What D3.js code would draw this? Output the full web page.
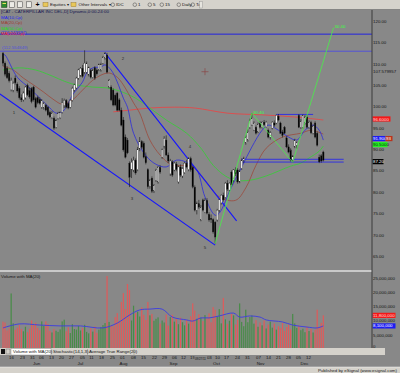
<!DOCTYPE html>
<html>
<head>
<meta charset="utf-8">
<script src="https://cdn.jsdelivr.net/npm/d3@7"></script>
<style>
body { margin: 0; background: #888888; }
svg { display: block; font-family: "Liberation Sans", Arial, sans-serif; }
</style>
</head>
<body>
<div class="chart"></div>
<script>
// daily bars, one per trading day: [open, high, low, close]
var candles = [
[112.2,112.5,109.2,109.9],[109.9,110.3,106.8,107.3],[108.7,109.2,106.2,106.5],[107.5,108.0,105.4,105.8],
[103.7,106.5,103.3,105.9],[103.6,105.6,103.1,105.2],[106.4,107.0,104.9,105.3],[105.0,105.4,103.0,103.4],
[104.0,104.5,101.4,101.8],[101.8,102.6,100.8,101.3],[101.3,103.3,100.9,102.9],[101.8,104.6,101.4,104.3],
[104.7,105.1,102.2,102.5],[103.5,104.2,101.6,102.0],[104.0,104.3,100.5,100.9],[104.3,104.6,100.9,101.3],
[101.7,102.0,99.3,99.6],[101.9,102.3,100.3,100.6],[101.5,101.9,100.2,100.5],[99.6,101.5,99.2,101.2],
[99.4,100.8,99.0,100.6],[100.1,100.4,98.6,98.9],[99.6,99.9,97.5,97.8],[98.4,98.8,97.0,97.3],
[97.2,98.7,96.8,98.2],[97.0,97.4,94.3,94.7],[95.0,96.8,94.6,96.4],[97.0,98.5,96.7,98.2],
[97.2,98.6,96.8,98.3],[98.4,101.7,98.1,100.6],[100.0,101.6,99.4,101.2],[101.2,101.5,99.3,99.6],
[100.5,100.9,99.1,99.4],[99.6,101.5,99.3,101.2],[101.2,104.4,100.9,104.0],[103.6,105.1,103.2,104.8],
[104.1,106.7,103.8,106.4],[106.4,108.6,106.0,108.3],[107.1,109.0,106.7,108.7],[108.7,109.5,106.5,106.8],
[107.8,112.9,107.3,109.9],[107.8,110.3,107.4,109.9],[107.1,109.1,106.8,108.8],[108.3,108.6,106.3,106.6],
[106.6,108.6,106.3,108.3],[108.8,109.2,106.0,106.4],[108.3,108.7,107.0,107.4],[108.3,109.8,108.0,109.5],
[108.3,110.0,107.9,109.5],[109.9,111.6,109.6,111.3],[111.1,112.5,110.7,112.1],[111.8,112.3,107.5,107.8],
[104.3,106.2,104.0,105.9],[104.3,104.7,101.0,101.3],[103.6,104.0,99.8,100.1],[102.4,102.8,99.8,100.1],
[102.9,103.2,98.6,98.9],[101.3,101.7,98.6,98.9],[98.9,99.5,95.1,95.4],[96.6,97.3,89.2,89.6],
[92.6,93.2,87.6,87.9],[91.9,92.4,88.6,88.9],[86.5,86.9,80.9,83.2],[85.1,87.6,83.0,86.7],
[84.9,88.0,84.4,87.2],[87.2,87.6,83.8,84.2],[85.0,90.3,84.6,89.8],[89.8,92.6,89.3,91.6],
[91.6,91.9,89.8,90.2],[91.2,91.6,87.6,87.9],[88.0,89.0,86.2,86.6],[85.0,85.3,80.5,81.0],
[81.2,82.8,80.5,82.5],[83.0,83.4,79.5,79.9],[80.0,81.6,79.5,81.3],[82.5,85.2,82.1,84.9],
[82.1,85.8,81.7,85.6],[85.5,86.0,84.0,84.4],[87.9,89.9,87.5,89.6],[90.5,92.8,89.9,92.3],
[91.9,93.0,88.2,88.4],[88.4,89.0,86.5,87.0],[84.0,87.5,83.5,87.0],[86.8,87.2,83.3,83.7],
[84.9,86.8,84.6,86.5],[86.3,86.8,84.6,85.0],[82.1,85.9,81.7,85.6],[85.6,86.2,83.3,83.7],
[83.5,85.5,83.0,85.2],[84.3,86.8,84.0,86.5],[86.5,87.3,85.3,85.6],[85.0,87.9,84.6,87.6],
[87.6,88.0,84.5,84.9],[85.6,85.9,80.6,80.9],[80.9,81.3,75.2,75.5],[75.5,77.5,74.5,77.0],
[77.0,77.9,75.8,76.2],[73.2,76.7,72.9,76.2],[77.9,78.2,75.2,75.5],[75.0,78.3,74.8,77.8],
[77.8,78.3,74.5,74.8],[74.5,75.0,72.8,73.2],[73.6,74.5,72.5,73.3],[73.3,73.6,70.0,70.4],
[72.7,72.9,67.7,69.2],[73.2,75.8,72.8,75.5],[75.5,78.2,75.0,77.9],[77.2,79.2,76.8,79.0],
[79.0,79.6,77.5,77.9],[78.5,82.1,78.2,81.8],[81.8,82.5,80.0,80.4],[80.2,82.0,79.9,81.8],
[84.4,84.8,81.0,81.4],[82.5,85.1,82.0,84.9],[84.9,85.5,83.5,84.0],[84.9,85.3,81.7,82.1],
[82.1,85.0,81.8,84.6],[85.3,87.6,84.9,87.2],[87.2,88.0,86.5,87.6],[91.2,93.0,90.8,92.6],
[91.9,94.4,91.5,93.8],[94.9,96.9,94.5,96.6],[95.5,98.2,95.2,97.0],[94.3,96.3,94.0,95.9],
[94.9,95.3,93.2,93.5],[93.8,96.0,93.5,95.6],[95.9,96.3,94.6,94.9],[94.9,96.3,94.6,96.1],
[96.1,96.6,95.2,95.5],[95.0,96.4,94.8,96.1],[94.2,94.6,92.3,92.6],[92.6,94.0,92.0,93.6],
[94.7,96.3,94.4,96.1],[95.9,96.5,95.0,95.4],[95.9,97.9,95.6,97.7],[97.5,98.0,96.3,96.6],
[95.9,96.2,93.3,93.5],[93.8,94.3,92.5,93.0],[94.9,95.2,93.3,93.5],[92.4,92.8,90.0,90.3],
[90.3,90.9,88.8,89.1],[89.6,90.0,86.9,87.2],[87.3,88.4,86.7,88.0],[90.3,92.2,90.0,91.9],
[90.7,91.6,89.9,91.4],[97.7,98.0,94.7,94.9],[94.9,96.8,94.5,96.3],[94.9,97.9,94.6,97.7],
[95.9,97.7,95.5,97.3],[97.3,97.7,94.6,94.9],[94.9,96.5,94.5,96.1],[96.0,96.4,93.3,93.6],
[93.6,95.5,93.2,95.2],[95.9,96.3,92.3,92.6],[93.5,93.9,90.4,90.7],[87.9,88.5,86.5,86.8],
[88.2,88.6,86.6,87.0],[89.1,89.4,86.9,87.2]
];

// daily volume, millions of shares
var volume = [
9.6,9.3,6.5,7.2,19.5,9.0,6.8,7.5,8.4,7.0,6.2,7.8,5.9,7.1,10.0,8.6,9.2,7.4,6.6,9.7,
8.1,9.7,8.8,6.3,5.8,7.0,6.4,6.0,6.9,9.7,10.3,6.2,7.6,5.6,8.7,7.0,6.8,8.1,6.5,7.3,
8.5,6.0,5.5,7.2,6.1,7.9,5.7,6.8,7.7,8.4,9.1,25.6,9.5,8.3,7.9,11.2,12.6,9.8,16.5,19.6,
14.0,22.8,20.7,10.0,15.2,12.6,13.1,11.4,14.6,12.0,10.2,16.5,11.8,12.3,9.9,10.6,11.1,8.9,10.0,9.3,
12.1,8.2,11.2,12.0,9.6,10.5,8.7,11.0,9.4,8.3,10.1,8.9,11.5,16.0,13.5,10.6,12.2,11.0,9.8,11.9,
10.7,12.5,9.4,14.7,13.8,11.3,14.0,9.0,17.9,10.4,8.8,9.9,12.3,11.8,8.6,10.2,16.0,9.5,8.0,13.8,
9.4,11.2,11.8,8.9,10.1,7.8,9.3,8.3,10.0,7.2,8.6,9.6,7.5,8.9,6.8,8.0,7.3,9.1,6.4,7.7,
8.6,6.9,12.3,9.0,7.4,8.2,6.6,7.1,5.9,7.8,6.3,7.0,5.8,6.7,13.8,7.5,9.2,11.8
];

// moving averages: [bar index, value]
var ma10 = [[0,112.0],[1,111.8],[7,106.6],[13,104.1],[18,101.7],[23,99.4],[26,98.2],[29,98.5],[31,99.6],[34,102.4],
  [39,105.5],[41,107.6],[44,108.8],[48,109.0],[50,109.5],[53,108.3],[56,105.5],[59,101.7],[61,99.6],[64,93.5],
  [69,88.9],[74,86.5],[80,85.6],[85,87.2],[90,86.7],[95,84.9],[99,78.6],[104,74.3],[106,74.8],[112,80.9],
  [117,85.6],[122,90.3],[127,94.2],[130,95.4],[135,94.2],[140,92.6],[144,91.9],[148,94.2],[152,95.4],[155,94.2],[157,91.9]];
var ma20 = [[0,109.2],[5,108.3],[10,106.4],[15,104.8],[20,103.1],[25,101.3],[29,100.3],[34,101.3],[39,103.6],[44,105.9],
  [48,107.1],[52,107.6],[56,106.6],[59,104.8],[64,100.6],[67,98.2],[72,91.9],[77,88.4],[83,86.0],[90,86.0],
  [93,85.6],[99,82.5],[106,78.6],[114,77.8],[119,80.7],[124,86.0],[129,90.0],[137,92.6],[146,93.5],[151,94.2],[157,93.3]];
var ma50 = [[0,108.3],[8,108.8],[16,108.3],[23,107.1],[31,105.5],[36,104.8],[44,104.3],[51,104.1],[57,103.4],[65,101.7],
  [72,99.4],[80,96.6],[90,93.5],[97,90.0],[103,86.0],[109,83.5],[114,82.5],[121,82.5],[129,83.5],[141,85.8],
  [146,86.5],[150,87.7],[155,89.3],[157,90.5]];
var ma200 = [[54,98.5],[62,98.9],[72,99.4],[84,99.6],[94,99.4],[110,98.2],[127,97.8],[143,97.3],[157,96.6]];
var volMa = [[0,7.4],[8,8.8],[18,8.4],[28,8.1],[38,8.1],[49,7.4],[56,9.1],[62,11.9],[67,13.7],[72,14.0],
  [78,14.0],[83,11.2],[90,10.2],[93,9.8],[97,10.9],[101,10.9],[106,11.6],[113,12.6],[116,11.2],[121,11.6],
  [126,11.2],[129,10.2],[137,9.5],[142,8.4],[149,7.7],[154,7.4],[157,8.1]];

// drawing tools
var trendLines = [[[-1.5,102.7],[104,67.3]], [[50,112.3],[114.5,73.0]]];
var zigzag = [[104,67.7],[122,98.2],[142,86.7],[162,118.2]];
var zigLabel = "30.40";
var levels = [{p: 116.55, label: "(116.549997)", c: "#2424e0"}, {p: 112.554849, label: "(112.554849)", c: "#5353d8"}];
var supports = [[117,167,87.4],[117,167,86.75],[134,152,97.9]];
var waves = [["1",5.4,98.4],["2",58.8,110.9],["3",63.2,78.3],["4",91.7,90.3],["5",99,66.8]];
var cursor = {i: 99, p: 107.9, label: "107.579957", date: "09/27/11", di: 96.8};

// axes
var priceTicks = [65,70,75,80,85,90,95,100,105,110,115,120];
var volTicks = [0,5,10,15,20,25];
var dayIdx = [3.9,9.3,14.2,18.6,23.5,28.4,33.3,38.7,43.1,48,53.4,58.3,63.7,68.6,74,78.9,83.8,88.2,92.6,100.9,
  104.9,109.3,114.7,119.6,125,129.9,134.8,139.7,144.6,149.5];
var dayLabels = ["16","23","31","06","13","20","27","05","11","18","25","01","08","15","22","29","06","12","19","03",
  "10","17","24","31","07","14","21","28","05","12"];
var monthIdx = [16.2,37.7,58.8,83.3,104.4,126,147.5];
var monthLabels = ["Jun","Jul","Aug","Sep","Oct","Nov","Dec"];
var legend = [["MA(10,Cp)","#2222ee"],["MA(20,Cp)","#a03a30"],["MA(50,Cp)","#22dd22"],["MA(200,Cp)","#ff2a2a"]];

var W = 400, H = 373, FS = 4.4;
var svg = d3.select('.chart').append('svg').attr('width', W).attr('height', H);

var x = d3.scaleLinear().domain([0, 157]).range([3, 323.3]);
var y = d3.scaleLinear().domain([65, 120]).range([255, 20]);
var yv = d3.scaleLinear().domain([0, 25]).range([349, 277.75]);

var defs = svg.append('defs');
defs.append('clipPath').attr('id', 'cp').append('rect').attr('x', 0).attr('y', 10).attr('width', 372).attr('height', 260);
defs.append('clipPath').attr('id', 'cv').append('rect').attr('x', 0).attr('y', 272).attr('width', 372).attr('height', 76);

function text(g, tx, ty, s, col, anchor) {
  return g.append('text').attr('x', tx).attr('y', ty).attr('dy', '0.35em')
    .attr('font-size', FS).attr('fill', col || '#111').attr('text-anchor', anchor || 'start').text(s);
}

svg.append('rect').attr('width', W).attr('height', H).attr('fill', '#888888');

// ---- price panel
var pp = svg.append('g').attr('clip-path', 'url(#cp)');

levels.forEach(function(l) {
  pp.append('line').attr('x1', 0).attr('x2', 372).attr('y1', y(l.p) - 0.6).attr('y2', y(l.p) - 0.6)
    .attr('stroke', l.c).attr('stroke-width', 1);
});

var line = d3.line().x(function(d) { return x(d[0]); }).y(function(d) { return y(d[1]); });
var smooth = d3.line().x(function(d) { return x(d[0]); }).y(function(d) { return y(d[1]); }).curve(d3.curveCatmullRom);

pp.append('path').attr('d', smooth(ma200)).attr('fill', 'none').attr('stroke', '#e34848').attr('stroke-width', 0.9);
pp.append('path').attr('d', smooth(ma50)).attr('fill', 'none').attr('stroke', '#3cc83c').attr('stroke-width', 0.9);
pp.append('path').attr('d', smooth(ma20)).attr('fill', 'none').attr('stroke', '#9c4a3c').attr('stroke-width', 0.8);
pp.append('path').attr('d', smooth(ma10)).attr('fill', 'none').attr('stroke', '#2c2cdc').attr('stroke-width', 0.8);

supports.forEach(function(s) {
  pp.append('line').attr('x1', x(s[0])).attr('x2', x(s[1])).attr('y1', y(s[2])).attr('y2', y(s[2]))
    .attr('stroke', '#2a2ae8').attr('stroke-width', 0.9);
});

trendLines.forEach(function(t) {
  pp.append('path').attr('d', line(t)).attr('fill', 'none').attr('stroke', '#1414ff').attr('stroke-width', 1.1);
});

// candles
var bars = pp.selectAll('.bar').data(candles).enter().append('g').attr('class', 'bar');
bars.append('line')
  .attr('x1', function(d, i) { return x(i); }).attr('x2', function(d, i) { return x(i); })
  .attr('y1', function(d) { return y(d[1]); }).attr('y2', function(d) { return y(d[2]); })
  .attr('stroke', '#161616').attr('stroke-width', 0.6);
bars.append('rect')
  .attr('x', function(d, i) { return x(i) - 0.75; }).attr('width', 1.5)
  .attr('y', function(d) { return y(Math.max(d[0], d[3])); })
  .attr('height', function(d) { return Math.max(0.6, Math.abs(y(d[0]) - y(d[3]))); })
  .attr('fill', function(d) { return d[3] >= d[0] ? '#f2f2f2' : '#000'; })
  .attr('stroke', '#222').attr('stroke-width', 0.25);

pp.append('path').attr('d', line(zigzag)).attr('fill', 'none').attr('stroke', '#48f048').attr('stroke-width', 0.8);
[zigzag[1], zigzag[3]].forEach(function(z) {
  text(pp, x(z[0]) + 1, y(z[1]) - 1, zigLabel, '#3cff3c');
});

waves.forEach(function(w) { text(pp, x(w[1]), y(w[2]), w[0], '#2a2a2a', 'middle'); });

// crosshair
var cx = x(cursor.i), cy = y(cursor.p);
pp.append('path').attr('d', 'M' + (cx - 3.5) + ',' + cy + 'H' + (cx + 3.5) + 'M' + cx + ',' + (cy - 3.5) + 'V' + (cy + 3.5))
  .attr('stroke', '#8a4848').attr('stroke-width', 0.7);

// title, legend and level labels (the 116 label sits half under the MA(200) entry, as on screen)
text(svg, 1, 11.5, '[CAT - CATERPILLAR INC DEL,D] Dynamic,0:00-24:00', '#141450');
text(svg, 2, y(levels[1].p) - 4.4, levels[1].label, levels[1].c);
text(svg, 1, 32.4, levels[0].label, levels[0].c);
legend.forEach(function(l, k) { text(svg, 1, 17.1 + k * 5.6, l[0], l[1]); });

// ---- price axis
var pa = svg.append('g').attr('transform', 'translate(372,1)')
  .call(d3.axisRight(y).tickValues(priceTicks).tickFormat(d3.format('.2f')).tickSize(0).tickPadding(1));
pa.select('.domain').remove();
pa.attr('font-size', FS).attr('font-family', null).selectAll('text').attr('fill', '#151515');

text(svg, 373, cy, cursor.label, '#151515');

function flag(fx, fy, w, s, bg, fg) {
  svg.append('rect').attr('x', fx).attr('y', fy - 2.6).attr('width', w).attr('height', 5.2).attr('fill', bg);
  text(svg, fx + 0.5, fy, s, fg);
}
var last = candles.length - 1, f4 = d3.format('.4f');
flag(372.5, y(ma200[ma200.length - 1][1]) - 1, 18, f4(ma200[ma200.length - 1][1]), '#f41818', '#ffdede');
flag(372.5, y(ma10[ma10.length - 1][1]) - 1.5, 13, d3.format('.3f')(ma10[ma10.length - 1][1]), '#1c1cf4', '#fff');
flag(385.5, y(ma10[ma10.length - 1][1]) - 1.5, 7, d3.format('.0f')(ma20[ma20.length - 1][1]), '#b8341e', '#fff');
flag(372.5, y(ma50[ma50.length - 1][1]) - 1.5, 15, f4(ma50[ma50.length - 1][1]), '#26ee26', '#0a300a');
flag(372.5, y(candles[last][3]) + 1.5, 11, d3.format('.2f')(candles[last][3]), '#000', '#fff');

// ---- panel separator
svg.append('rect').attr('x', 0).attr('y', 270).attr('width', 372).attr('height', 2).attr('fill', '#c9c9c9');

// ---- volume panel
var vp = svg.append('g').attr('clip-path', 'url(#cv)');
vp.selectAll('.vol').data(volume).enter().append('rect').attr('class', 'vol')
  .attr('x', function(d, i) { return x(i) - 0.6; }).attr('width', 1.2)
  .attr('y', function(d) { return yv(d); })
  .attr('height', function(d) { return yv(0) - yv(d); })
  .attr('fill', function(d, i) { return candles[i][3] >= candles[i][0] ? '#478c47' : '#e05a5a'; });
var vline = d3.line().x(function(d) { return x(d[0]); }).y(function(d) { return yv(d[1]); }).curve(d3.curveCatmullRom);
vp.append('path').attr('d', vline(volMa)).attr('fill', 'none').attr('stroke', '#3b3be2').attr('stroke-width', 0.9);
text(svg, 1, 276, 'Volume with MA(20)', '#151515');

var va = svg.append('g').attr('transform', 'translate(372,0)')
  .call(d3.axisRight(yv).tickValues(volTicks).tickFormat(function(d) { return d3.format(',')(d * 1e6); }).tickSize(0).tickPadding(1));
va.select('.domain').remove();
va.attr('font-size', FS).attr('font-family', null).selectAll('text').attr('fill', '#151515')
  .attr('dy', function(d) { return d === 0 ? '-0.45em' : '0.32em'; });
flag(372.5, yv(volume[last]), 23, d3.format(',')(volume[last] * 1e6), '#f41818', '#ffdede');
flag(372.5, yv(volMa[volMa.length - 1][1]), 23, d3.format(',')(volMa[volMa.length - 1][1] * 1e6), '#1c1cf4', '#fff');

// right axis separator
svg.append('line').attr('x1', 372).attr('x2', 372).attr('y1', 10).attr('y2', 355).attr('stroke', '#3a3a3a').attr('stroke-width', 1);

// ---- tab bar
svg.append('rect').attr('x', 0).attr('y', 348).attr('width', 385).attr('height', 7).attr('fill', '#d5d2cb');
svg.append('rect').attr('x', 1).attr('y', 349).attr('width', 4).attr('height', 5).attr('fill', '#111');
svg.append('rect').attr('x', 6).attr('y', 349).attr('width', 4).attr('height', 5).attr('fill', '#d5d2cb').attr('stroke', '#555').attr('stroke-width', 0.4);
svg.append('rect').attr('x', 11).attr('y', 348.5).attr('width', 40).attr('height', 6.5).attr('fill', '#fff').attr('stroke', '#777').attr('stroke-width', 0.4);
text(svg, 13, 351.7, 'Volume with MA(20)', '#111');
text(svg, 53, 351.7, 'Stochastic(14,1,3)', '#111');
svg.append('line').attr('x1', 87.5).attr('x2', 87.5).attr('y1', 349).attr('y2', 355).attr('stroke', '#777').attr('stroke-width', 0.4);
text(svg, 89, 351.7, 'Average True Range(20)', '#111');
svg.append('line').attr('x1', 134).attr('x2', 134).attr('y1', 349).attr('y2', 355).attr('stroke', '#777').attr('stroke-width', 0.4);

// ---- date axis
var da = svg.append('g').attr('transform', 'translate(0,355.5)')
  .call(d3.axisBottom(x).tickValues(dayIdx).tickFormat(function(d, i) { return dayLabels[i]; }).tickSize(0).tickPadding(0.5));
da.select('.domain').remove();
da.attr('font-size', FS).attr('font-family', null).selectAll('text').attr('fill', '#151515');
var ma = svg.append('g').attr('transform', 'translate(0,361.5)')
  .call(d3.axisBottom(x).tickValues(monthIdx).tickFormat(function(d, i) { return monthLabels[i]; }).tickSize(0).tickPadding(0.5));
ma.select('.domain').remove();
ma.attr('font-size', FS).attr('font-family', null).selectAll('text').attr('fill', '#151515');
svg.append('rect').attr('x', x(cursor.di) - 6).attr('y', 355.8).attr('width', 12).attr('height', 4.8).attr('fill', '#888888');
text(svg, x(cursor.di), 358.2, cursor.date, '#151515', 'middle').attr('textLength', 11).attr('lengthAdjust', 'spacingAndGlyphs');

// ---- bottom strip
svg.append('rect').attr('x', 0).attr('y', 367).attr('width', W).attr('height', 6).attr('fill', '#d5d2cb');
svg.append('line').attr('x1', 0).attr('x2', W).attr('y1', 367).attr('y2', 367).attr('stroke', '#f4f4f4').attr('stroke-width', 0.5);
text(svg, 397, 370.2, 'Published by eSignal (www.esignal.com)', '#222', 'end');

// ---- toolbar
var tb = svg.append('g');
tb.append('rect').attr('width', W).attr('height', 9.5).attr('fill', '#d5d2cb');
tb.append('line').attr('x1', 0).attr('x2', W).attr('y1', 9.5).attr('y2', 9.5).attr('stroke', '#6a6a6a').attr('stroke-width', 0.6);
tb.append('rect').attr('x', 1.5).attr('y', 1.5).attr('width', 5.5).attr('height', 6).attr('fill', '#2e8a2e').attr('stroke', '#1d1d1d').attr('stroke-width', 0.4);
tb.append('rect').attr('x', 2.5).attr('y', 3).attr('width', 3.5).attr('height', 1).attr('fill', '#e8e060');
[9.5, 17.5, 26.5].forEach(function(ix) {
  tb.append('rect').attr('x', ix).attr('y', 1.8).attr('width', 5).attr('height', 5.5).attr('fill', '#ecebe6').attr('stroke', '#404040').attr('stroke-width', 0.5);
});
text(tb, 37.5, 4.6, '+', '#000', 'middle').attr('font-size', 7).attr('font-weight', 'bold');
[[43, 'Equities \u25be', 50], [71, 'Other Intervals \u25be', 78.5]].forEach(function(f) {
  tb.append('rect').attr('x', f[0]).attr('y', 2.6).attr('width', 5).attr('height', 4).attr('fill', '#e9c85a').attr('stroke', '#8a6a20').attr('stroke-width', 0.4);
  text(tb, f[2], 4.8, f[1], '#111');
});
[[111, 'IDC'], [133, '1'], [148, '5'], [160, '15'], [177, 'Daily'], [191, 'Ta']].forEach(function(b) {
  tb.append('circle').attr('cx', b[0] + 1.8).attr('cy', 4.7).attr('r', 1.8).attr('fill', 'none').attr('stroke', '#333').attr('stroke-width', 0.45);
  text(tb, b[0] + 5, 4.8, b[1], '#111');
});
tb.append('rect').attr('x', 199.5).attr('y', 1.5).attr('width', 3).attr('height', 6.5).attr('fill', '#e6e4de').attr('stroke', '#8a8a8a').attr('stroke-width', 0.4);
</script>
</body>
</html>
